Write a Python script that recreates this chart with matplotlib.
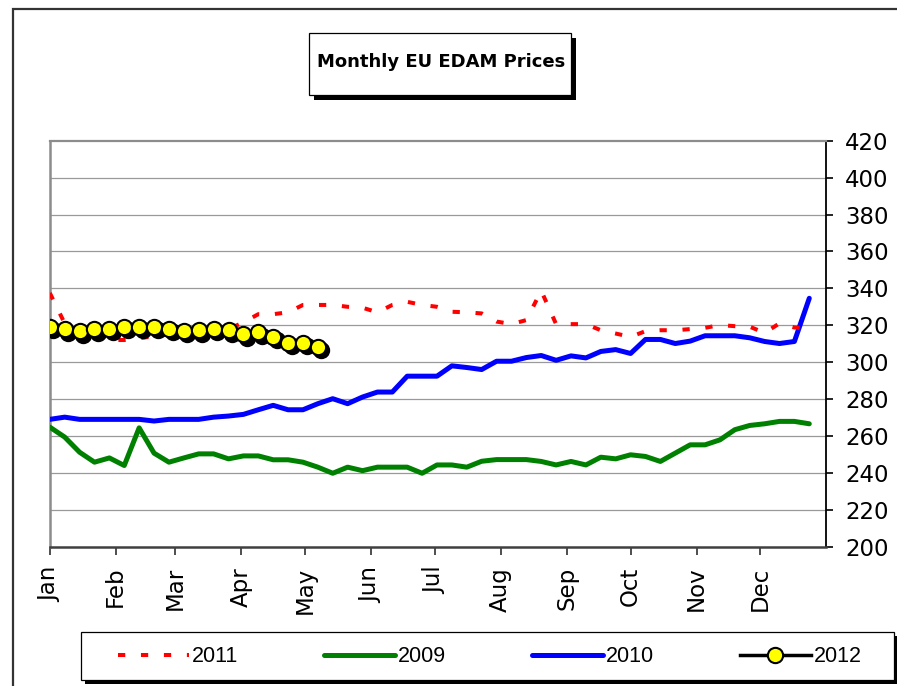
import numpy as np
import matplotlib
matplotlib.use("Agg")
import matplotlib.pyplot as plt
from matplotlib.patches import Rectangle
from matplotlib.transforms import ScaledTranslation
from matplotlib import font_manager

# ---------------- data ----------------
month_labels = ["Jan", "Feb", "Mar", "Apr", "May", "Jun",
                "Jul", "Aug", "Sep", "Oct", "Nov", "Dec"]
month_start_day = [0, 31, 59, 90, 120, 151, 181, 212, 243, 273, 304, 334]
days_in_year = 365

y2011 = [337.5, 321, 315, 313, 312, 312, 313, 314, 315, 316,
         317, 318, 318, 321.5, 326, 326, 327, 331, 331, 331,
         330, 329.5, 327, 331, 332.7, 331, 330, 327.3, 327, 326.4,
         322, 320.6, 322.8, 338.7, 320.6, 320.6, 320.6, 317.3, 315.5, 313.7,
         316.8, 317.3, 317.3, 317.9, 318.6, 320.1, 319.5, 319.2, 315.9, 321,
         318.8, 318.2]
y2009 = [264.8, 259.4, 251.2, 245.8, 248.1, 244.0, 264.4, 250.7, 245.8, 248.1,
         250.3, 250.3, 247.6, 249.2, 249.2, 247.1, 247.1, 245.8, 243.1, 239.8,
         243.1, 241.2, 243.1, 243.1, 243.1, 239.8, 244.3, 244.3, 243.1, 246.3,
         247.2, 247.2, 247.2, 246.2, 244.3, 246.2, 244.3, 248.5, 247.6, 249.8,
         248.9, 246.2, 250.7, 255.2, 255.2, 257.9, 263.4, 265.7, 266.6, 267.9,
         267.9, 266.6]
y2010 = [269, 270.2, 269, 269, 269, 269, 269, 268.1, 269, 269,
         269, 270.2, 270.8, 271.7, 274.2, 276.6, 274.2, 274.2, 277.5, 280.2,
         277.5, 281.1, 283.8, 283.8, 292.4, 292.4, 292.4, 298, 297.1, 296,
         300.5, 300.5, 302.5, 303.6, 301, 303.4, 302.3, 305.8, 306.8, 304.7,
         312.3, 312.3, 310.1, 311.4, 314.3, 314.3, 314.3, 313.2, 311.2, 310.1,
         311.2, 334.6]
y2012 = [319.2, 317.7, 316.8, 317.9, 318.1, 319.2, 319.2, 319.2, 318.1, 317.0,
         317.2, 318.2, 317.4, 315.0, 316.1, 313.7, 310.5, 310.5, 308.3]

y_ticks = [200, 220, 240, 260, 280, 300, 320, 340, 360, 380, 400, 420]

weeks_full = np.arange(len(y2010))
weeks_2012 = np.arange(len(y2012))
month_pos = np.array(month_start_day) / 7.0

# legend font: narrow if available
available = {f.name for f in font_manager.fontManager.ttflist}
if "Liberation Sans Narrow" in available:
    leg_prop = {"family": ["Liberation Sans Narrow", "DejaVu Sans"], "size": 17}
else:
    leg_prop = {"family": ["Liberation Sans", "DejaVu Sans"], "size": 15.5}

# ---------------- figure ----------------
W, H = 897, 686
fig = plt.figure(figsize=(W / 100, H / 100), dpi=100)
fig.patch.set_facecolor("white")

def px_rect(x0, y0, x1, y1, **kw):
    return Rectangle((x0 / W, 1 - y1 / H), (x1 - x0) / W, (y1 - y0) / H,
                     transform=fig.transFigure, **kw)

# outer chart border
fig.patches.append(px_rect(12.7, 9.3, 920, 720, fill=False,
                           edgecolor="#333333", lw=1.6, zorder=0))

ax = fig.add_axes([49.8 / W, (H - 546.7) / H, (826.3 - 49.8) / W, (546.7 - 140.7) / H])
ax.set_facecolor("white")

# series
ax.plot(weeks_full, y2009, color="#008000", lw=3.6, solid_joinstyle="round",
        solid_capstyle="round", label="2009", zorder=3)
ax.plot(weeks_full, y2010, color="#0000FF", lw=3.6, solid_joinstyle="round",
        solid_capstyle="round", label="2010", zorder=3)
ax.plot(weeks_full, y2011, color="#FF0000", lw=2.9, ls=(0, (1.8, 3.9)),
        dash_capstyle="butt", label="2011", zorder=4)

shadow = ax.transData + ScaledTranslation(2.6 / 72, -2.6 / 72, fig.dpi_scale_trans)
ax.plot(weeks_2012, y2012, ls="none", marker="o", ms=11, mfc="black",
        mec="black", mew=1.5, transform=shadow, zorder=5)
ax.plot(weeks_2012, y2012, color="black", lw=2.5, marker="o", ms=11,
        mfc="#FFFF00", mec="black", mew=1.5, label="2012", zorder=6)

ax.set_xlim(0, days_in_year / 7.0)
ax.set_ylim(200, 420)

# grid
for v in y_ticks[1:-1]:
    ax.axhline(v, color="#999999", lw=0.9, zorder=1)

# spines
ax.spines["left"].set_color("#8c8c8c")
ax.spines["left"].set_linewidth(1.8)
ax.spines["top"].set_color("#8c8c8c")
ax.spines["top"].set_linewidth(1.6)
ax.spines["bottom"].set_color("#404040")
ax.spines["bottom"].set_linewidth(1.8)
ax.spines["right"].set_color("black")
ax.spines["right"].set_linewidth(1.3)

# y axis on the right
ax.yaxis.tick_right()
ax.set_yticks(y_ticks)
ax.set_yticklabels([str(v) for v in y_ticks])
ax.tick_params(axis="y", which="both", right=True, left=False, direction="out",
               length=5, width=1.2, color="black", pad=8.5, labelsize=16.5)

# x axis
ax.set_xticks(month_pos)
ax.set_xticklabels(month_labels, rotation=90, va="top", ha="center")
ax.tick_params(axis="x", direction="out", length=6, width=1.3, color="#404040",
               pad=8.5, labelsize=16.5)

# title box
fig.patches.append(px_rect(314, 38, 576, 100, facecolor="black", edgecolor="black",
                           lw=0, zorder=1))
fig.patches.append(px_rect(309, 33, 571, 95, facecolor="white", edgecolor="black",
                           lw=0.9, zorder=2))
fig.text(441 / W, 1 - 62 / H, "Monthly EU EDAM Prices", fontsize=13,
         fontweight="bold", ha="center", va="center", zorder=3)

# legend box
fig.patches.append(px_rect(85, 636, 898, 684, facecolor="black", edgecolor="black",
                           lw=0, zorder=1))
fig.patches.append(px_rect(81, 632, 894, 679.5, facecolor="white", edgecolor="black",
                           lw=0.9, zorder=2))

handles, labels = ax.get_legend_handles_labels()
order = ["2011", "2009", "2010", "2012"]
hmap = dict(zip(labels, handles))
leg = fig.legend([hmap[k] for k in order], order, ncol=4, frameon=False,
                 loc="center", mode="expand",
                 bbox_to_anchor=(118 / W, 1 - 672 / H, (862 - 118) / W, 30 / H),
                 borderpad=0, borderaxespad=0, handlelength=3.3, handletextpad=0.15,
                 prop=leg_prop)
leg.set_zorder(5)

fig.savefig("out.png", dpi=100, facecolor="white")
